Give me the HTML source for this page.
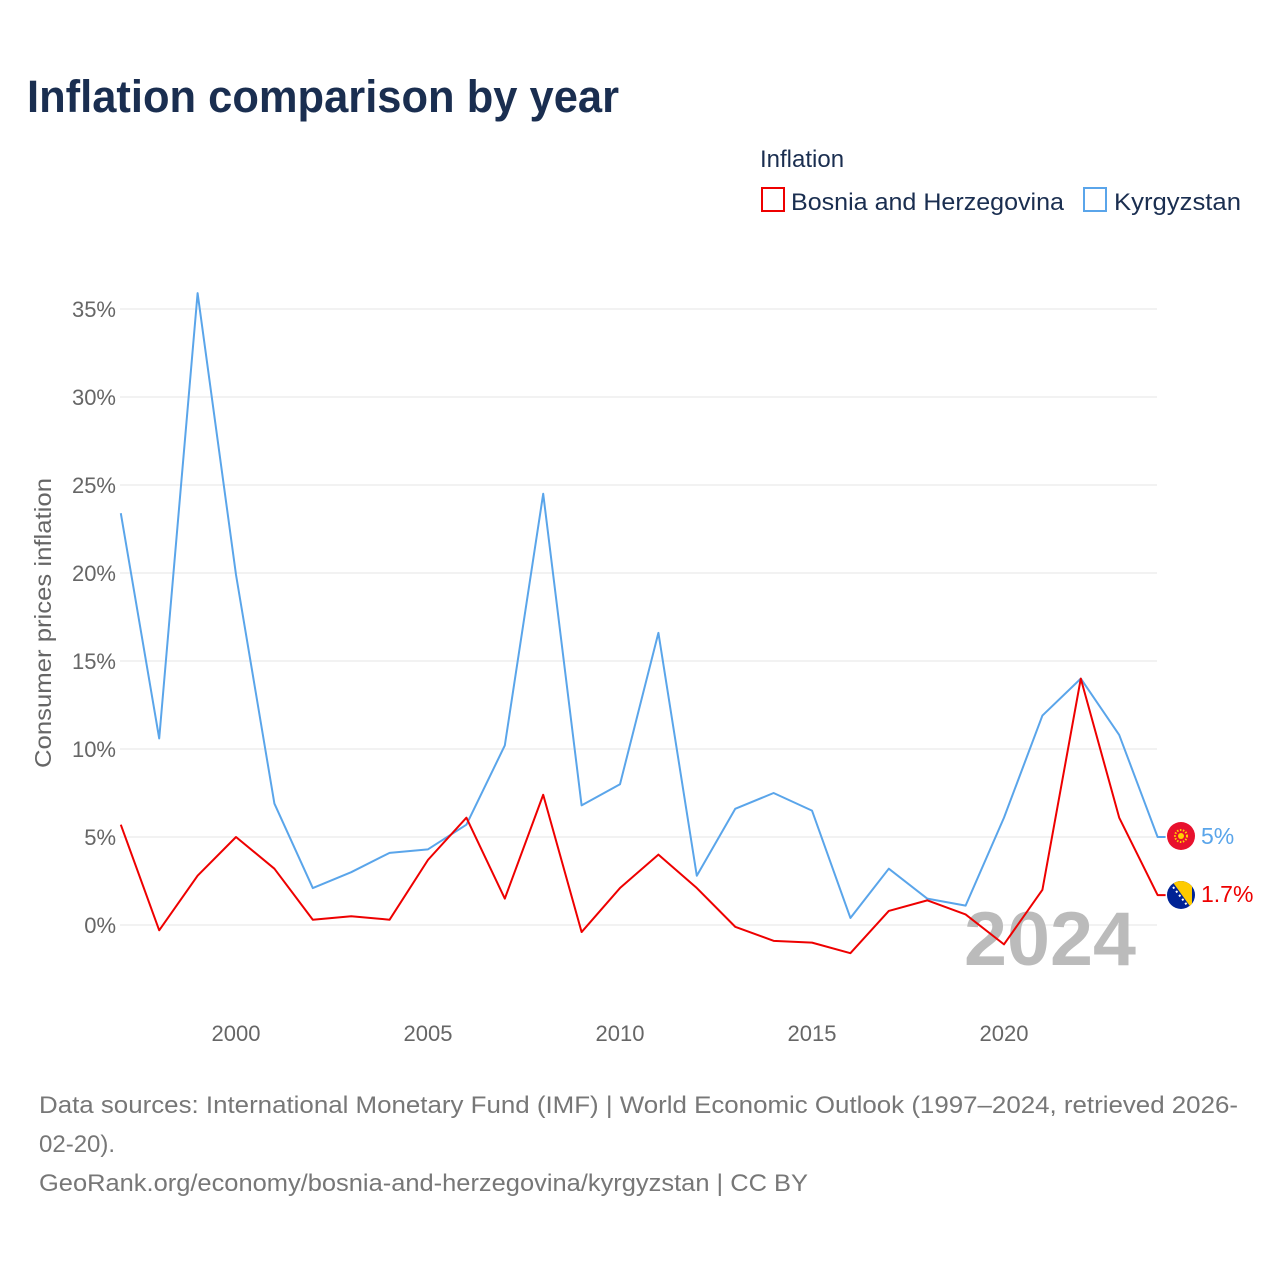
<!DOCTYPE html>
<html><head><meta charset="utf-8"><style>
body{margin:0;background:#fff;width:1280px;height:1280px;overflow:hidden;font-family:"Liberation Sans",sans-serif}
svg text{font-family:"Liberation Sans",sans-serif}
</style></head><body>
<svg id="chart" width="1280" height="1280" viewBox="0 0 1280 1280" xmlns="http://www.w3.org/2000/svg">
<text x="27" y="112" font-size="45" font-weight="bold" fill="#1a2e50" textLength="592" lengthAdjust="spacingAndGlyphs">Inflation comparison by year</text>
<text x="760" y="167" font-size="24" fill="#1a2e50">Inflation</text>
<g><rect x="762" y="188" width="22" height="23" fill="none" stroke="#ee0000" stroke-width="2"/><text x="791" y="210" font-size="24" fill="#1a2e50" textLength="273" lengthAdjust="spacingAndGlyphs">Bosnia and Herzegovina</text></g>
<g><rect x="1084" y="188" width="22" height="23" fill="none" stroke="#5aa5ea" stroke-width="2"/><text x="1114" y="210" font-size="24" fill="#1a2e50" textLength="127" lengthAdjust="spacingAndGlyphs">Kyrgyzstan</text></g>
<g id="grid"></g>
<g id="yticks"></g>
<g id="xticks"></g>
<text transform="translate(51,623) rotate(-90)" text-anchor="middle" font-size="23" fill="#666" textLength="290" lengthAdjust="spacingAndGlyphs">Consumer prices inflation</text>
<text x="964" y="965" font-size="76" font-weight="bold" fill="#bbb" textLength="172" lengthAdjust="spacingAndGlyphs">2024</text>
<g id="series"></g>
<g><circle cx="1181" cy="836" r="14" fill="#e8112d"/><circle cx="1181" cy="836" r="6" fill="none" stroke="#ffd200" stroke-width="2" stroke-dasharray="1.5 1.5"/><circle cx="1181" cy="836" r="3" fill="#ffd200"/></g>
<g><clipPath id="bc"><circle cx="1181" cy="895" r="14"/></clipPath><g clip-path="url(#bc)"><rect x="1167" y="881" width="28" height="28" fill="#002395"/><polygon points="1172,881 1192,881 1192,909" fill="#fecb00"/><line x1="1170" y1="883" x2="1190" y2="909" stroke="#fff" stroke-width="2" stroke-dasharray="2 3"/></g></g>
<text x="1201" y="844" font-size="23" fill="#5aa5ea">5%</text>
<text x="1201" y="902" font-size="23" fill="#ee0000">1.7%</text>
<text font-size="24" fill="#777"><tspan x="39" y="1113" textLength="1199" lengthAdjust="spacingAndGlyphs">Data sources: International Monetary Fund (IMF) | World Economic Outlook (1997–2024, retrieved 2026-</tspan><tspan x="39" y="1152">02-20).</tspan><tspan x="39" y="1191" textLength="769" lengthAdjust="spacingAndGlyphs">GeoRank.org/economy/bosnia-and-herzegovina/kyrgyzstan | CC BY</tspan></text>
</svg>
<script>
const years=[1997,1998,1999,2000,2001,2002,2003,2004,2005,2006,2007,2008,2009,2010,2011,2012,2013,2014,2015,2016,2017,2018,2019,2020,2021,2022,2023,2024];
const kyrgyzstan=[23.4,10.6,35.9,19.9,6.9,2.1,3.0,4.1,4.3,5.7,10.2,24.5,6.8,8.0,16.6,2.8,6.6,7.5,6.5,0.4,3.2,1.5,1.1,6.1,11.9,14.0,10.8,5.0];
const bosnia=[5.7,-0.3,2.8,5.0,3.2,0.3,0.5,0.3,3.7,6.1,1.5,7.4,-0.4,2.1,4.0,2.1,-0.1,-0.9,-1.0,-1.6,0.8,1.4,0.6,-1.1,2.0,14.0,6.1,1.7];
const yTicks=[0,5,10,15,20,25,30,35];
const xTicks=[2000,2005,2010,2015,2020];
const NS="http://www.w3.org/2000/svg";
const x=v=>120.8+(v-1997)*38.4;
const y=v=>925-v*17.6;
const grid=document.getElementById('grid'),yt=document.getElementById('yticks'),xt=document.getElementById('xticks'),ser=document.getElementById('series');
yTicks.forEach(t=>{
 const l=document.createElementNS(NS,'line');
 
 
 l.setAttribute('x1',120);l.setAttribute('x2',1157);l.setAttribute('y1',y(t));l.setAttribute('y2',y(t));
 l.setAttribute('stroke','#e6e6e6');l.setAttribute('stroke-width',1);grid.appendChild(l);
 const tx=document.createElementNS(NS,'text');
 
 
 tx.setAttribute('x',116);tx.setAttribute('y',y(t)+8);tx.setAttribute('text-anchor','end');tx.setAttribute('font-size','22');tx.setAttribute('fill','#666');
 tx.textContent=t+'%';yt.appendChild(tx);
});
xTicks.forEach(t=>{
 const tx=document.createElementNS(NS,'text');
 
 
 tx.setAttribute('x',x(t));tx.setAttribute('y',1041);tx.setAttribute('text-anchor','middle');tx.setAttribute('font-size','22');tx.setAttribute('fill','#666');
 tx.textContent=t;xt.appendChild(tx);
});
function draw(vals,color,name){
 const p=document.createElementNS(NS,'polyline');
 
 
 let pts=vals.map((v,i)=>x(years[i])+','+y(v));
 pts.push((x(years[years.length-1])+8)+','+y(vals[vals.length-1]));
 p.setAttribute('points',pts.join(' '));
 p.setAttribute('fill','none');p.setAttribute('stroke',color);p.setAttribute('stroke-width',2);p.setAttribute('stroke-linejoin','round');
 ser.appendChild(p);
}
draw(kyrgyzstan,'#5aa5ea','kyrgyzstan-line');
draw(bosnia,'#ee0000','bosnia-line');
</script>
</body></html>
